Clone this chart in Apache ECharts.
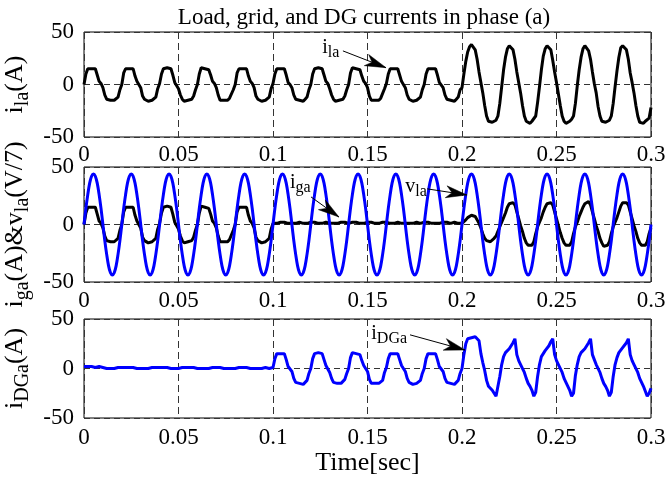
<!DOCTYPE html>
<html>
<head>
<meta charset="utf-8">
<script src="https://cdn.jsdelivr.net/npm/echarts@6/dist/echarts.min.js"></script>
<style>
html,body{margin:0;padding:0;background:#fff;}
#c{width:670px;height:477px;}
</style>
</head>
<body>
<div id="c"></div>
<script>
// ---- data (sampled every 1 ms, 0 .. 0.3 s) ----
const sampleStep = 0.001;
const xTickLabels = ['0','0.05','0.1','0.15','0.2','0.25','0.3'];
const yTickLabels = ['-50','0','50'];

// load current i_la (A)
const iLa = [
0,10,15,16,15,16,15,9,3,1,-3,-10,-14,-15,-15,-16,-15,-14,-12,-5,
0,11,15,16,15,15,15,8,3,0,-3,-11,-14,-15,-16,-15,-15,-14,-12,-4,
1,10,15,16,16,15,15,9,2,1,-4,-10,-14,-16,-15,-15,-15,-14,-11,-5,
0,10,16,15,15,16,14,9,3,1,-3,-10,-15,-15,-15,-16,-15,-13,-12,-5,
0,11,15,16,15,15,15,8,3,1,-3,-11,-14,-15,-16,-15,-15,-14,-12,-4,
1,10,15,16,15,16,15,9,2,0,-3,-10,-14,-15,-15,-15,-16,-14,-12,-5,
0,10,15,16,16,15,15,9,3,1,-4,-10,-14,-16,-15,-15,-15,-14,-11,-5,
0,11,16,15,15,16,14,8,3,1,-3,-11,-15,-15,-15,-16,-15,-13,-12,-4,
1,10,15,16,15,15,15,9,3,0,-3,-10,-14,-15,-16,-15,-15,-14,-12,-5,
0,10,15,16,15,16,15,9,2,1,-3,-10,-14,-15,-15,-15,-16,-14,-12,-5,
-3,10,22,31,36,38,37,33,24,12,2,-8,-20,-30,-35,-36,-36,-35,-34,-30,
-18,-2,14,26,34,37,37,33,24,12,2,-8,-20,-30,-35,-36,-37,-35,-34,-30,
-17,-2,14,27,34,37,36,33,23,12,2,-9,-20,-30,-35,-37,-36,-35,-33,-30,
-18,-1,14,26,34,37,37,32,24,12,1,-8,-21,-30,-35,-36,-36,-35,-34,-30,
-18,-2,13,26,35,37,37,33,24,11,2,-8,-20,-30,-36,-36,-37,-35,-34,-32,
-22];

// grid current i_ga (A)
const iGa = [
0,10,15,16,15,16,15,9,3,1,-3,-10,-14,-15,-15,-16,-15,-14,-12,-5,
0,11,15,16,15,15,15,8,3,0,-3,-11,-14,-15,-16,-15,-15,-14,-12,-4,
1,10,15,16,16,15,15,9,2,1,-4,-10,-14,-16,-15,-15,-15,-14,-11,-5,
0,10,16,15,15,16,14,9,3,1,-3,-10,-15,-15,-15,-16,-15,-13,-12,-5,
0,11,15,16,15,15,15,8,3,1,-3,-11,-14,-15,-16,-15,-15,-14,-12,-4,
1,2,1,2,2,1,2,1,1,2,1,2,1,1,2,2,1,2,1,1,
2,1,2,1,1,2,1,2,2,1,1,2,1,2,1,1,2,1,2,1,
1,2,2,1,2,1,1,2,1,2,2,1,2,1,1,2,1,1,2,1,
2,1,1,2,1,2,2,1,1,2,1,2,1,2,1,1,2,2,1,1,
2,1,2,1,1,2,1,2,1,1,2,1,2,2,1,1,2,1,1,2,
1,2,4,6,7,8,8,7,4,1,-3,-8,-12,-14,-14,-15,-14,-12,-10,-6,
-2,2,6,10,15,18,19,19,17,11,5,-1,-6,-12,-16,-18,-19,-18,-15,-8,
-2,2,6,11,15,18,19,19,17,11,5,-1,-7,-12,-16,-18,-19,-18,-15,-8,
-2,2,7,11,15,18,19,20,17,11,5,-1,-6,-12,-16,-19,-19,-18,-15,-8,
-2,2,6,11,16,19,20,19,17,11,5,-1,-6,-12,-16,-18,-19,-18,-15,-8,
-3];

// load voltage v_la (V/7)
const vLa = [
0,14,26,36,42,44,42,36,26,14,0,-14,-26,-36,-42,-44,-42,-36,-26,-14,
0,14,26,36,42,44,42,36,26,14,0,-14,-26,-36,-42,-44,-42,-36,-26,-14,
0,14,26,36,42,44,42,36,26,14,0,-14,-26,-36,-42,-44,-42,-36,-26,-14,
0,14,26,36,42,44,42,36,26,14,0,-14,-26,-36,-42,-44,-42,-36,-26,-14,
0,14,26,36,42,44,42,36,26,14,0,-14,-26,-36,-42,-44,-42,-36,-26,-14,
0,14,26,36,42,44,42,36,26,14,0,-14,-26,-36,-42,-44,-42,-36,-26,-14,
0,14,26,36,42,44,42,36,26,14,0,-14,-26,-36,-42,-44,-42,-36,-26,-14,
0,14,26,36,42,44,42,36,26,14,0,-14,-26,-36,-42,-44,-42,-36,-26,-14,
0,14,26,36,42,44,42,36,26,14,0,-14,-26,-36,-42,-44,-42,-36,-26,-14,
0,14,26,36,42,44,42,36,26,14,0,-14,-26,-36,-42,-44,-42,-36,-26,-14,
0,14,26,36,42,44,42,36,26,14,0,-14,-26,-36,-42,-44,-42,-36,-26,-14,
0,14,26,36,42,44,42,36,26,14,0,-14,-26,-36,-42,-44,-42,-36,-26,-14,
0,14,26,36,42,44,42,36,26,14,0,-14,-26,-36,-42,-44,-42,-36,-26,-14,
0,14,26,36,42,44,42,36,26,14,0,-14,-26,-36,-42,-44,-42,-36,-26,-14,
0,14,26,36,42,44,42,36,26,14,0,-14,-26,-36,-42,-44,-42,-36,-26,-14,
0];

// DG current i_DGa (A)
const iDGa = [
2,2,2,2,2,2,1,2,2,1,1,1,0,0,0,0,0,0,1,1,
1,1,1,1,1,1,1,1,0,0,0,0,0,0,0,1,1,1,1,1,
1,1,1,1,1,0,0,0,0,0,0,0,1,1,1,1,1,1,1,1,
0,0,0,0,0,0,0,1,1,1,1,1,1,1,0,0,0,0,0,0,
0,1,1,1,1,1,1,0,0,0,0,0,0,0,0,1,1,1,0,0,
1,10,15,16,15,16,15,9,2,0,-3,-10,-14,-15,-15,-15,-16,-14,-12,-5,
0,10,15,16,16,15,15,9,3,1,-4,-10,-14,-16,-15,-15,-15,-14,-11,-5,
0,11,16,15,15,16,14,8,3,1,-3,-11,-15,-15,-15,-16,-15,-13,-12,-4,
1,10,15,16,15,15,15,9,3,0,-3,-10,-14,-15,-16,-15,-15,-14,-12,-5,
0,10,15,16,15,16,15,9,2,1,-3,-10,-14,-15,-15,-15,-16,-14,-12,-5,
0,14,25,30,32,31,32,32,31,28,15,6,-2,-12,-18,-20,-22,-24,-28,-26,
-8,4,12,16,18,20,22,26,30,14,8,4,2,-4,-10,-15,-18,-22,-28,-24,
-8,4,12,15,18,20,23,27,30,14,8,4,2,-4,-10,-14,-18,-22,-28,-25,
-7,4,12,16,18,20,22,26,30,14,9,4,2,-4,-10,-15,-18,-22,-28,-24,
-8,4,11,16,18,21,22,26,30,14,8,4,2,-4,-10,-14,-18,-23,-28,-25,
-20];

// annotations
const annLabels = ['{m|i}{s|la}', '{m|i}{s|ga}', '{m|v}{s|la}', '{m|i}{s|DGa}'];
const annPanel  = [0, 1, 1, 2];
const annText   = [[0.126, 35], [0.109, 36], [0.170, 33], [0.152, 35]];
const annFrom   = [[0.137, 32], [0.1201, 24], [0.1815, 31], [0.1725, 34]];
const annTip    = [[0.1598, 16], [0.1349, 6.5], [0.2026, 25.7], [0.2016, 18.7]];

const titleText = 'Load, grid, and DG currents in phase (a)';
const yNames = ['{m|i}{s|la}{m|(A)}', '{m|i}{s|ga}{m|(A)&v}{s|la}{m|(V/7)}', '{m|i}{s|DGa}{m|(A)}'];
const xName = 'Time[sec]';

// ---- chart ----
const FONT = 'Liberation Serif';
const times = iLa.map((_, i) => +(i * sampleStep).toFixed(3));
const pairs = arr => arr.map((v, i) => [times[i], v]);

const grids = [
  {left: 84, right: 19, top: 32, height: 105},
  {left: 84, right: 19, top: 167, height: 115},
  {left: 84, right: 19, top: 319, height: 99}
].map(g => Object.assign(g, {show: true, borderColor: '#000', borderWidth: 1,
  backgroundColor: '#fff', containLabel: false, outerBoundsMode: 'none'}));

const labelMargins = [6, 7, 8];
const xAxes = [0, 1, 2].map(i => ({
  type: 'value', gridIndex: i, min: 0, max: 0.3, interval: 0.05,
  axisLine: {show: false}, axisTick: {show: false},
  axisLabel: {fontFamily: FONT, fontSize: 23, color: '#000', margin: labelMargins[i],
    formatter: (v, idx) => xTickLabels[idx]},
  splitLine: {show: true, lineStyle: {color: '#333', type: [7, 4], width: 1}},
  name: i === 2 ? xName : '', nameLocation: 'middle', nameGap: 31,
  nameTextStyle: {fontFamily: FONT, fontSize: 26, color: '#000'}
}));

const richName = {
  m: {fontFamily: FONT, fontSize: 26, color: '#000'},
  s: {fontFamily: FONT, fontSize: 20, color: '#000', padding: [14, 0, 0, 0]}
};
const yAxes = [0, 1, 2].map(i => ({
  type: 'value', gridIndex: i, min: -50, max: 50, interval: 50,
  axisLine: {show: false}, axisTick: {show: false},
  axisLabel: {fontFamily: FONT, fontSize: 23, color: '#000', margin: 10,
    formatter: (v, idx) => yTickLabels[idx]},
  splitLine: {show: true, lineStyle: {color: '#333', type: [6, 4], width: 1}},
  name: yNames[i], nameLocation: 'middle', nameRotate: 90, nameGap: 42,
  nameTextStyle: {rich: richName}
}));

function arrowFor(k) {
  const idx = annPanel.map((p, j) => j).filter(j => annPanel[j] === k);
  return {
    silent: true, animation: false,
    symbol: ['none', 'none'],
    label: {show: false},
    lineStyle: {color: '#000', width: 1, type: 'solid'},
    emphasis: {disabled: true},
    data: idx.map(j => [{coord: annFrom[j]}, {coord: annTip[j]}])
  };
}

const lineBase = {type: 'line', showSymbol: false, animation: false, silent: true};
const series = [
  Object.assign({}, lineBase, {name: 'i_la', xAxisIndex: 0, yAxisIndex: 0, data: pairs(iLa),
    lineStyle: {color: '#000', width: 3}, markLine: arrowFor(0)}),
  Object.assign({}, lineBase, {name: 'i_ga', xAxisIndex: 1, yAxisIndex: 1, data: pairs(iGa),
    lineStyle: {color: '#000', width: 3}, markLine: arrowFor(1)}),
  Object.assign({}, lineBase, {name: 'v_la', xAxisIndex: 1, yAxisIndex: 1, data: pairs(vLa), smooth: 0.35,
    lineStyle: {color: '#0000ff', width: 3}}),
  Object.assign({}, lineBase, {name: 'i_DGa', xAxisIndex: 2, yAxisIndex: 2, data: pairs(iDGa),
    lineStyle: {color: '#0000ff', width: 3}, markLine: arrowFor(2)})
];

const chart = echarts.init(document.getElementById('c'), null, {renderer: 'canvas'});
chart.setOption({
  backgroundColor: '#fff',
  animation: false,
  title: {text: titleText, left: 364, top: 6, padding: 0, textAlign: 'center',
    textStyle: {fontFamily: FONT, fontSize: 23, fontWeight: 'normal', color: '#000'}},
  grid: grids, xAxis: xAxes, yAxis: yAxes, series: series
});

const richAnn = {
  m: {fontFamily: FONT, fontSize: 20, fill: '#000'},
  s: {fontFamily: FONT, fontSize: 16, fill: '#000', padding: [10, 0, 0, 0]}
};
const graphics = [];
annLabels.forEach((txt, j) => {
  const g = {gridIndex: annPanel[j]};
  const p = chart.convertToPixel(g, annText[j]);
  graphics.push({type: 'text', x: p[0], y: p[1], silent: true, z: 100,
    style: {text: txt, rich: richAnn, align: 'left', verticalAlign: 'middle', fill: '#000'}});
  // filled dart-shaped arrowhead at the tip, oriented along the arrow shaft
  const a = chart.convertToPixel(g, annFrom[j]);
  const b = chart.convertToPixel(g, annTip[j]);
  const dx = b[0] - a[0], dy = b[1] - a[1];
  const L = Math.hypot(dx, dy), ux = dx / L, uy = dy / L, nx = -uy, ny = ux;
  const len = 21, half = 6, notch = 15;
  const pts = [
    [b[0], b[1]],
    [b[0] - ux * len + nx * half, b[1] - uy * len + ny * half],
    [b[0] - ux * notch, b[1] - uy * notch],
    [b[0] - ux * len - nx * half, b[1] - uy * len - ny * half]
  ];
  graphics.push({type: 'polygon', silent: true, z: 100, shape: {points: pts},
    style: {fill: '#000', stroke: '#000', lineWidth: 0.5}});
});
chart.setOption({graphic: graphics});
</script>
</body>
</html>
